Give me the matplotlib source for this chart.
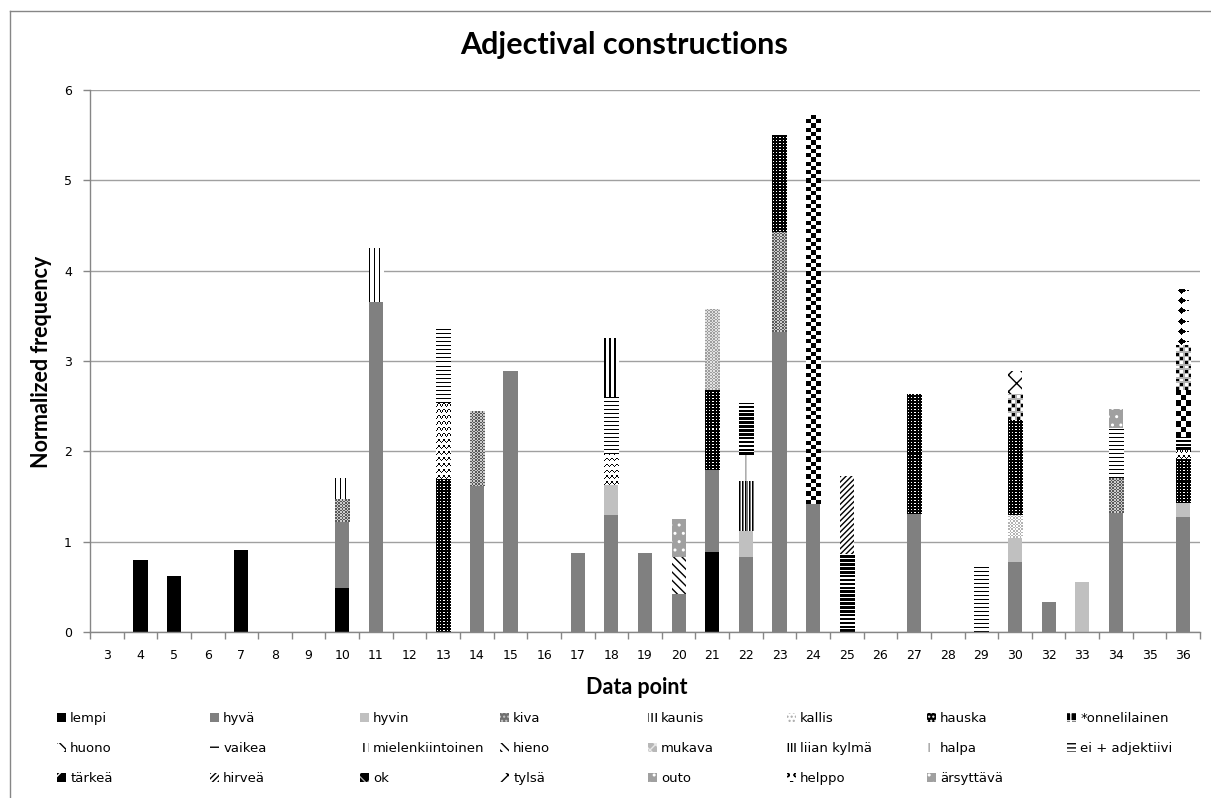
import numpy as np
import matplotlib
matplotlib.use("Agg")
import matplotlib.pyplot as plt
from matplotlib.patches import Patch
from matplotlib.lines import Line2D

# ---------------- data ----------------
categories = ['3', '4', '5', '6', '7', '8', '9', '10', '11', '12', '13', '14', '15',
              '16', '17', '18', '19', '20', '21', '22', '23', '24', '25', '26', '27',
              '28', '29', '30', '32', '33', '34', '35', '36']

series_names = ['lempi', 'hyvä', 'hyvin', 'kiva', 'kaunis', 'kallis', 'hauska',
                '*onnelilainen', 'huono', 'vaikea', 'mielenkiintoinen', 'hieno',
                'mukava', 'liian kylmä', 'halpa', 'ei + adjektiivi', 'tärkeä',
                'hirveä', 'ok', 'tylsä', 'outo', 'helppo', 'ärsyttävä']

lempi = {'4': 0.80, '5': 0.62, '7': 0.91, '10': 0.49, '21': 0.89}
hyva = {'10': 0.73, '11': 3.65, '14': 1.62, '15': 2.89, '17': 0.88, '18': 1.30,
        '19': 0.87, '20': 0.42, '21': 0.90, '22': 0.83, '23': 3.32, '24': 1.42,
        '27': 1.31, '30': 0.77, '32': 0.33, '34': 1.32, '36': 1.27}
hyvin = {'18': 0.33, '22': 0.29, '30': 0.27, '33': 0.55, '36': 0.16}
kiva = {'10': 0.25, '14': 0.83, '23': 1.11, '34': 0.38}
kaunis = {'10': 0.23, '11': 0.60}
kallis = {'30': 0.26}
hauska = {'13': 1.69, '21': 0.89, '23': 1.07, '27': 1.33, '30': 1.05, '36': 0.48}
onnelilainen = {'24': 4.30}
huono = {'13': 0.85, '18': 0.34, '36': 0.11}
vaikea = {'13': 0.82, '18': 0.63, '29': 0.73, '34': 0.56}
mielenkiintoinen = {'18': 0.65}
hieno = {'20': 0.41}
mukava = {'21': 0.90}
liian_kylma = {'22': 0.55}
halpa = {'22': 0.29}
ei_adjektiivi = {'22': 0.57, '25': 0.86, '36': 0.14}
tarkea = {'36': 0.52}
hirvea = {'25': 0.87}
ok = {'30': 0.28, '36': 0.50}
tylsa = {'30': 0.26}
outo = {'20': 0.42, '34': 0.21}
helppo = {'36': 0.62}
arsyttava = {}

series_values = [lempi, hyva, hyvin, kiva, kaunis, kallis, hauska, onnelilainen,
                 huono, vaikea, mielenkiintoinen, hieno, mukava, liian_kylma, halpa,
                 ei_adjektiivi, tarkea, hirvea, ok, tylsa, outo, helppo, arsyttava]

# ---------------- styles ----------------
zigzag = [[0, 1, 1, 1],
          [1, 0, 1, 0],
          [1, 1, 0, 1],
          [1, 1, 1, 1],
          [1, 1, 1, 1]]
diamond = np.ones((10, 14))
for r in range(7):
    for c in range(14):
        if abs(r - 3) + abs(c - 5) <= 3:
            diamond[r, c] = 0
diamond[3, 10:12] = 0
g = 0.7
ok_tile = [[0, 0, g, 1, 1, g],
           [0, 0, g, 1, 1, g],
           [g, g, g, g, g, g],
           [1, 1, g, 0, 0, g],
           [1, 1, g, 0, 0, g],
           [g, g, g, g, g, g]]

styles = {
    'lempi': dict(kind='solid', fc='#000000'),
    'hyvä': dict(kind='solid', fc='#808080'),
    'hyvin': dict(kind='solid', fc='#c0c0c0'),
    'kiva': dict(kind='tile', tile=[[0.35, 0.8], [0.8, 0.35]], cell=1.5,
                 proxy=dict(fc='#707070', ec='#c8c8c8', hatch='....')),
    'kaunis': dict(kind='tile', tile=[[0, 1, 1, 1]], cell=1.2,
                   proxy=dict(fc='white', ec='black', hatch='||||')),
    'kallis': dict(kind='tile', tile=[[1, 0.7], [0.7, 1]], cell=1.6,
                   proxy=dict(fc='white', ec='#a8a8a8', hatch='....')),
    'hauska': dict(kind='tile', tile=[[0, 0, 0], [0, 1, 0], [0, 0, 0]], cell=1.0,
                   proxy=dict(fc='black', ec='white', hatch='....')),
    '*onnelilainen': dict(kind='tile', tile=[[0, 1], [1, 0]], cell=4.2,
                          proxy=dict(fc='black', ec='white', hatch='++')),
    'huono': dict(kind='tile', tile=zigzag, cell=1.2,
                  proxy=dict(fc='white', ec='black', hatch='xx')),
    'vaikea': dict(kind='tile', tile=[[0], [1], [1], [1]], cell=1.0,
                   proxy=dict(fc='white', ec='black', hatch='---')),
    'mielenkiintoinen': dict(kind='tile', tile=[[0, 0, 1, 1]], cell=1.2,
                             proxy=dict(fc='white', ec='black', hatch='|||')),
    'hieno': dict(kind='hatch', fc='white', ec='black', hatch='\\\\\\\\'),
    'mukava': dict(kind='tile', tile=[[0.62, 0.88], [0.88, 0.62]], cell=1.5,
                   proxy=dict(fc='#b8b8b8', ec='#e8e8e8', hatch='xxx')),
    'liian kylmä': dict(kind='tile', tile=[[0, 0.45, 1]], cell=1.0,
                        proxy=dict(fc='white', ec='black', hatch='|||||')),
    'halpa': dict(kind='hatch', fc='white', ec='#a0a0a0', hatch='||'),
    'ei + adjektiivi': dict(kind='tile', tile=[[0], [0], [1]], cell=1.3,
                            proxy=dict(fc='white', ec='black', hatch='----')),
    'tärkeä': dict(kind='tile', tile=[[0, 1], [1, 0]], cell=5.0,
                   proxy=dict(fc='black', ec='white', hatch='x')),
    'hirveä': dict(kind='hatch', fc='white', ec='black', hatch='//////'),
    'ok': dict(kind='tile', tile=ok_tile, cell=1.4,
               proxy=dict(fc='black', ec='#a8a8a8', hatch='xx')),
    'tylsä': dict(kind='hatch', fc='white', ec='black', hatch='xx'),
    'outo': dict(kind='hatch', fc='#a0a0a0', ec='white', hatch='..'),
    'helppo': dict(kind='tile', tile=diamond, cell=1.0,
                   proxy=dict(fc='white', ec='black', hatch='oo')),
    'ärsyttävä': dict(kind='hatch', fc='#a0a0a0', ec='white', hatch='..'),
}

plt.rcParams['hatch.linewidth'] = 1.0
W, H = 1211, 798
fig = plt.figure(figsize=(W / 100, H / 100), dpi=100)
ax = fig.add_axes([90 / W, 1 - 632 / H, (1200 - 90) / W, (632 - 90) / H])

x = np.arange(len(categories))
ax.set_xlim(-0.5, len(categories) - 0.5)
ax.set_ylim(0, 6)
width = 0.42


def tile_fill(patch, tile, cell):
    tile = np.asarray(tile, dtype=float)
    x0, y0 = patch.get_x(), patch.get_y()
    w, h = patch.get_width(), patch.get_height()
    if h <= 0:
        return
    (px0, py0), (px1, py1) = ax.transData.transform([(x0, y0), (x0 + w, y0 + h)])
    cols = max(1, int(round((px1 - px0) / cell)))
    rows = max(1, int(round((py1 - py0) / cell)))
    th, tw = tile.shape
    img = np.tile(tile, (rows // th + 2, cols // tw + 2))[:rows, :cols]
    im = ax.imshow(img, extent=(x0, x0 + w, y0, y0 + h), origin='lower',
                   cmap='gray', vmin=0, vmax=1, interpolation='nearest',
                   aspect='auto', zorder=2.5)
    im.set_clip_path(patch)


bottom = np.zeros(len(categories))
handles = []
for name, d in zip(series_names, series_values):
    vals = np.array([d.get(c, 0.0) for c in categories])
    st = styles[name]
    if st['kind'] == 'solid':
        bars = ax.bar(x, vals, width, bottom=bottom, color=st['fc'], lw=0, zorder=2)
        handles.append(Patch(facecolor=st['fc'], lw=0, label=name))
    elif st['kind'] == 'hatch':
        bars = ax.bar(x, vals, width, bottom=bottom, facecolor=st['fc'],
                      edgecolor=st['ec'], hatch=st['hatch'], lw=0, zorder=2)
        handles.append(Patch(facecolor=st['fc'], edgecolor=st['ec'],
                             hatch=st['hatch'], lw=0, label=name))
    else:
        bars = ax.bar(x, vals, width, bottom=bottom, facecolor='white', lw=0, zorder=2)
        for p, v in zip(bars.patches, vals):
            if v > 0:
                tile_fill(p, st['tile'], st['cell'])
        pr = st['proxy']
        handles.append(Patch(facecolor=pr['fc'], edgecolor=pr['ec'],
                             hatch=pr['hatch'], lw=0, label=name))
    bottom = bottom + vals

ax.set_xlim(-0.5, len(categories) - 0.5)
ax.set_ylim(0, 6)

# axes styling
ax.set_axisbelow(True)
ax.yaxis.grid(True, color='#a0a0a0', lw=1)
ax.set_yticks(range(0, 7))
ax.set_xticks(x)
ax.set_xticklabels(categories)
ax.set_xticks(np.arange(-0.5, len(categories)), minor=True)
ax.tick_params(axis='x', which='major', length=0, pad=12, labelsize=9)
ax.tick_params(axis='x', which='minor', length=5, color='#868686', width=1)
ax.tick_params(axis='y', length=5, color='#868686', width=1, labelsize=9, pad=8)
for s in ['top', 'right']:
    ax.spines[s].set_visible(False)
for s in ['left', 'bottom']:
    ax.spines[s].set_color('#868686')
    ax.spines[s].set_linewidth(1)

fig.text(624 / W, 1 - 45 / H, 'Adjectival constructions', ha='center', va='center',
         fontsize=22, fontweight='bold', family=['Lato', 'DejaVu Sans'])
fig.text(42 / W, 1 - 362 / H, 'Normalized frequency', ha='center', va='center',
         rotation=90, fontsize=15.5, fontweight='bold', family=['Lato', 'DejaVu Sans'])
fig.text(637 / W, 1 - 687 / H, 'Data point', ha='center', va='center',
         fontsize=15.5, fontweight='bold', family=['Lato', 'DejaVu Sans'])

# legend: 8 columns, row-major order
col_x = [57, 210, 360, 500, 648, 787, 927, 1067]
for ci, cx in enumerate(col_x):
    hs = handles[ci::8]
    lg = fig.legend(handles=hs, loc='upper left',
                    bbox_to_anchor=(cx / W, 1 - 712 / H), frameon=False,
                    fontsize=9.5, handlelength=0.65, handleheight=0.65,
                    handletextpad=0.35, labelspacing=1.3, borderpad=0,
                    borderaxespad=0)

# outer chart frame
fig.add_artist(Line2D([10 / W, 10 / W], [0, 1 - 11 / H], color='#868686', lw=1))
fig.add_artist(Line2D([10 / W, 1], [1 - 11 / H, 1 - 11 / H], color='#868686', lw=1))

fig.savefig('out.png', dpi=100)
